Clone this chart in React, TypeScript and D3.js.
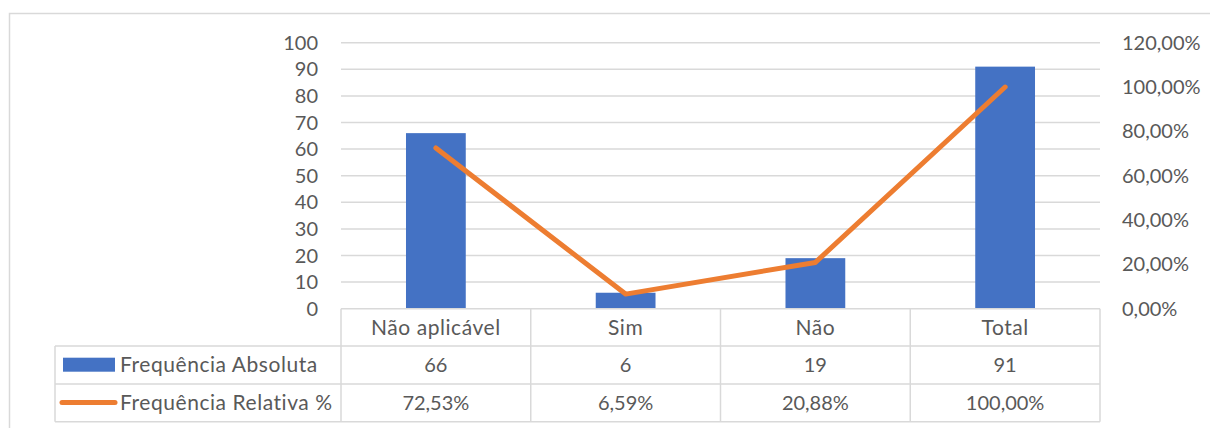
import React from 'react';
import * as d3 from 'd3';

const categories = ['Não aplicável', 'Sim', 'Não', 'Total'];
const absoluta = [66, 6, 19, 91];
const relativa = [0.7253, 0.0659, 0.2088, 1.0];
const absLabels = ['66', '6', '19', '91'];
const relLabels = ['72,53%', '6,59%', '20,88%', '100,00%'];
const leftTicks = [0, 10, 20, 30, 40, 50, 60, 70, 80, 90, 100];
const rightTicks = [0, 0.2, 0.4, 0.6, 0.8, 1.0, 1.2];
const seriesNames = ['Frequência Absoluta', 'Frequência Relativa %'];

const W = 1210;
const H = 428;
const BLUE = '#4472C4';
const ORANGE = '#ED7D31';
const TEXT = '#595959';
const GRID = '#d9d9d9';
const FONT = 'Lato, "Open Sans", sans-serif';

const App: React.FC = () => {
  const plotLeft = 341;
  const plotRight = 1100;
  const top = 42.7;
  const base = 308.7;
  const tableLeft = 55;
  const rows = [base, 346, 384, 421.7];

  const x = d3.scaleBand<string>().domain(categories).range([plotLeft, plotRight]).padding(0);
  const yL = d3.scaleLinear().domain([0, 100]).range([base, top]);
  const yR = d3.scaleLinear().domain([0, 1.2]).range([base, top]);
  const barW = x.bandwidth() * 0.315;
  const cx = (c: string) => (x(c) as number) + x.bandwidth() / 2;

  const line = d3
    .line<number>()
    .x((_, i) => cx(categories[i]))
    .y((d) => yR(d));

  const fmtPct = (v: number) => d3.format('.2f')(v * 100).replace('.', ',') + '%';

  const colEdges = [...categories.map((c) => x(c) as number), plotRight];
  // word labels render a little narrower in Lato than in the original font
  const wordStyle = { fontSize: 21, letterSpacing: 0.55 };

  return (
    <div style={{ position: 'absolute', left: 0, top: 0 }}>
      <svg width={W} height={H} style={{ display: 'block', fontFamily: FONT }}>
        <rect x={0} y={0} width={W} height={H} fill="#fff" />
        {/* outer chart border */}
        <path d={`M9.5,${H} V13.5 H${W}`} fill="none" stroke={GRID} strokeWidth={1.5} />

        {/* gridlines */}
        {leftTicks.slice(1).map((t) => (
          <line key={t} x1={plotLeft} x2={plotRight} y1={yL(t)} y2={yL(t)} stroke={GRID} strokeWidth={1.5} />
        ))}

        {/* bars */}
        {categories.map((c, i) => (
          <rect key={c} x={cx(c) - barW / 2} y={yL(absoluta[i])} width={barW} height={base - yL(absoluta[i])} fill={BLUE} />
        ))}

        {/* line */}
        <path d={line(relativa) || ''} fill="none" stroke={ORANGE} strokeWidth={5} strokeLinecap="round" strokeLinejoin="round" />

        {/* left axis labels */}
        {leftTicks.map((t) => (
          <text key={t} x={318} y={yL(t)} dy="0.35em" textAnchor="end" fontSize={20} fill={TEXT}>
            {t}
          </text>
        ))}

        {/* right axis labels */}
        {rightTicks.map((t) => (
          <text key={t} x={1122} y={yR(t)} dy="0.35em" textAnchor="start" fontSize={20} fill={TEXT}>
            {fmtPct(t)}
          </text>
        ))}

        {/* data table */}
        <g stroke={GRID} strokeWidth={1.5} fill="none">
          <line x1={plotLeft} x2={plotRight} y1={rows[0]} y2={rows[0]} />
          {rows.slice(1).map((r) => (
            <line key={r} x1={tableLeft} x2={plotRight} y1={r} y2={r} />
          ))}
          {colEdges.map((e) => (
            <line key={e} x1={e} x2={e} y1={rows[0]} y2={rows[3]} />
          ))}
          <line x1={tableLeft} x2={tableLeft} y1={rows[1]} y2={rows[3]} />
        </g>

        {categories.map((c, i) => (
          <g key={c} fontSize={20} fill={TEXT} textAnchor="middle">
            <text x={cx(c)} y={(rows[0] + rows[1]) / 2} dy="0.35em" style={wordStyle}>{c}</text>
            <text x={cx(c)} y={(rows[1] + rows[2]) / 2} dy="0.35em">{absLabels[i]}</text>
            <text x={cx(c)} y={(rows[2] + rows[3]) / 2} dy="0.35em">{relLabels[i]}</text>
          </g>
        ))}

        {/* legend keys */}
        <rect x={63} y={357.7} width={52} height={14} fill={BLUE} />
        <line x1={62} x2={115} y1={402.5} y2={402.5} stroke={ORANGE} strokeWidth={5} strokeLinecap="round" />
        <text x={120} y={(rows[1] + rows[2]) / 2} dy="0.35em" fill={TEXT} style={wordStyle}>{seriesNames[0]}</text>
        <text x={120} y={(rows[2] + rows[3]) / 2} dy="0.35em" fill={TEXT} style={wordStyle}>{seriesNames[1]}</text>
      </svg>
    </div>
  );
};

export default App;
